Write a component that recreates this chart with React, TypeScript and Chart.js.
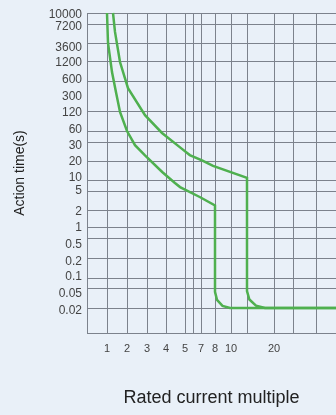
import React, { useEffect, useRef } from 'react';
import { Chart, registerables, LinearScale } from 'chart.js';

Chart.register(...registerables);

// ---- axis definitions (the chart's own non-uniform grid) ----
const xGridMultiples = [1, 2, 3, 4, 5, 6, 7, 8, 10, 13, 20, 30, 40];
const xGridLabels = ['1', '2', '3', '4', '5', '', '7', '8', '10', '', '20', '', ''];
const xGridSpacing = [1, 2, 3, 3.95, 4.9, 5.3, 5.7, 6.4, 7.2, 8.0, 9.35, 10.3, 11.45];
const xSpan = [0, 12.45];

const yGridSeconds = [10000, 7200, 3600, 1200, 600, 300, 120, 60, 30, 20, 10, 5, 2, 1, 0.5, 0.2, 0.1, 0.05, 0.02];
const yGridLabels = ['10000', '7200', '3600', '1200', '600', '300', '120', '60', '30', '20', '10', '5', '2', '1', '0.5', '0.2', '0.1', '0.05', '0.02'];
// where the grid lines sit and where the printed labels sit (they differ on the original)
const yGridSpacing = [16, 15.45, 14.5, 13.55, 12.6, 11.8, 11.05, 10.1, 9.55, 8.6, 7.65, 7.1, 6.15, 5.3, 4.75, 3.75, 2.75, 2.25, 1.25];
const yLabelSpacing = [15.9, 15.3, 14.25, 13.5, 12.65, 11.8, 11.0, 10.15, 9.35, 8.55, 7.75, 7.1, 6.05, 5.25, 4.4, 3.55, 2.8, 1.95, 1.1];
const ySpan = [0, 16];
const yNoGridLine = [300];

// ---- series (rated current multiple vs action time in seconds) ----
const lowerMultiple = [1.0, 1.05, 1.25, 1.45, 1.65, 2.0, 2.4, 2.9, 3.8, 4.47, 4.74, 6.9, 8, 8, 8.25, 8.94, 9.88, 50];
const lowerSeconds = [10000, 3600, 830, 370, 120, 60, 28, 22.5, 13.4, 8.3, 6.4, 3.7, 2.5, 0.042, 0.029, 0.022, 0.02, 0.02];

const upperMultiple = [1.3, 1.4, 1.65, 2.05, 2.9, 3.79, 4.84, 5.6, 7.07, 7.86, 13, 13, 13.62, 15.33, 17.67, 50];
const upperSeconds = [10000, 5400, 1200, 440, 107, 53, 25.9, 22.7, 20.3, 16.7, 10.8, 0.0436, 0.0295, 0.0222, 0.02, 0.02];

const xTitle = 'Rated current multiple';
const yTitle = 'Action time(s)';

function interp(v: number, vals: number[], pos: number[], log: boolean): number {
  const f = log ? (a: number) => Math.log10(a) : (a: number) => a;
  const t = f(v);
  const pairs = vals.map((a, i) => [f(a), pos[i]]).sort((a, b) => a[0] - b[0]);
  let i = 0;
  while (i < pairs.length - 2 && t > pairs[i + 1][0]) i++;
  const [a0, p0] = pairs[i];
  const [a1, p1] = pairs[i + 1];
  return p0 + ((t - a0) * (p1 - p0)) / (a1 - a0);
}

function makeScale(id: string, vals: number[], pos: number[], log: boolean, span: number[]) {
  class MappedScale extends (LinearScale as any) {
    static id = id;
    static defaults = {};
    determineDataLimits() {
      this.min = span[0];
      this.max = span[1];
    }
    buildTicks() {
      return vals.map((v) => ({ value: v }));
    }
    getPixelForValue(value: number) {
      const p = interp(value, vals, pos, log);
      return this.getPixelForDecimal((p - span[0]) / (span[1] - span[0]));
    }
    getValueForPixel() {
      return 0;
    }
  }
  return MappedScale;
}

const XScale = makeScale('xmap', xGridMultiples, xGridSpacing, false, xSpan);
const YScale = makeScale('ymap', yGridSeconds, yGridSpacing, true, ySpan);
const YLabelScale = makeScale('ymaplabels', yGridSeconds, yLabelSpacing, true, ySpan);
Chart.register(XScale as any, YScale as any, YLabelScale as any);

const GRID = '#7c828c';
const GREEN = '#4fb04f';
const FONT = 'Liberation Sans, Arial, sans-serif';

export default function App() {
  const ref = useRef<HTMLCanvasElement | null>(null);

  useEffect(() => {
    document.body.style.margin = '0';
    const ctx = ref.current!.getContext('2d')!;
    const mk = (xs: number[], ys: number[]) => xs.map((x, i) => ({ x, y: ys[i] }));
    const line = (xs: number[], ys: number[]) => ({
      data: mk(xs, ys),
      borderColor: GREEN,
      borderWidth: 2.5,
      pointRadius: 0,
      tension: 0,
      fill: false,
      xAxisID: 'x',
      yAxisID: 'y',
    });
    const chart = new Chart(ctx, {
      type: 'line',
      data: {
        datasets: [line(lowerMultiple, lowerSeconds), line(upperMultiple, upperSeconds)],
      },
      options: {
        animation: false,
        responsive: false,
        layout: { padding: { top: 13, left: 0, right: 0, bottom: 0 } },
        plugins: { legend: { display: false }, tooltip: { enabled: false } },
        scales: {
          x: {
            type: 'xmap' as any,
            position: 'bottom',
            grid: { color: GRID, lineWidth: 1, drawTicks: false },
            border: { color: GRID, width: 1 },
            ticks: {
              autoSkip: false,
              maxRotation: 0,
              padding: 9,
              color: '#444',
              font: { family: FONT, size: 11 },
              callback: (_v: any, i: number) => xGridLabels[i],
            },
            title: {
              display: true,
              text: xTitle,
              color: '#222',
              font: { family: FONT, size: 18 },
              padding: { top: 0, bottom: 6 },
            },
            afterFit: (s: any) => {
              s.height = 82;
              s.paddingLeft = 0;
              s.paddingRight = 0;
            },
          } as any,
          y: {
            type: 'ymap' as any,
            position: 'left',
            grid: {
              color: (c: any) => (c.tick && yNoGridLine.includes(c.tick.value) ? 'rgba(0,0,0,0)' : GRID),
              lineWidth: 1,
              drawTicks: false,
            },
            border: { color: GRID, width: 1 },
            ticks: { display: false },
            afterFit: (s: any) => {
              s.width = 0;
              s.paddingTop = 0;
              s.paddingBottom = 0;
            },
          } as any,
          yl: {
            type: 'ymaplabels' as any,
            position: 'left',
            grid: { display: false, drawTicks: false },
            border: { display: false },
            ticks: {
              autoSkip: false,
              padding: 5,
              color: '#444',
              font: { family: FONT, size: 12 },
              callback: (_v: any, i: number) => yGridLabels[i],
            },
            title: {
              display: true,
              text: yTitle,
              color: '#222',
              font: { family: FONT, size: 14 },
              padding: { top: 11.6, bottom: 0 },
            },
            afterFit: (s: any) => {
              s.width = 87;
              s.paddingTop = 0;
              s.paddingBottom = 0;
            },
          } as any,
        },
      },
    });
    return () => chart.destroy();
  }, []);

  return (
    <div style={{ width: 336, height: 415, background: '#e9f0f8' }}>
      <canvas ref={ref} width={336} height={415} style={{ display: 'block' }} />
    </div>
  );
}
